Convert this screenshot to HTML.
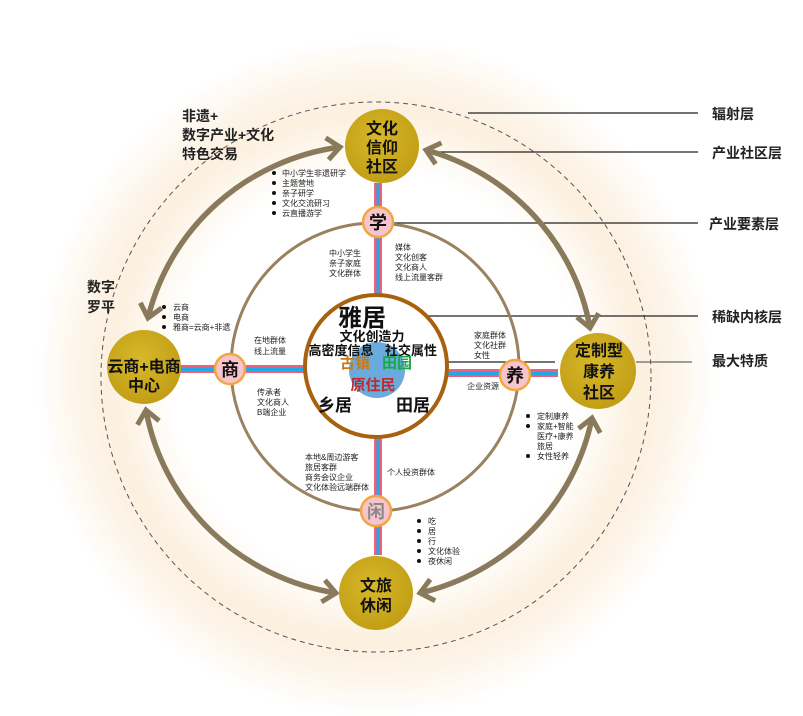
<!DOCTYPE html>
<html><head><meta charset="utf-8"><style>
html,body{margin:0;padding:0;background:#fff;}
svg{display:block;}
text{font-family:"Liberation Sans","Noto Sans CJK SC",sans-serif;}
</style></head><body>
<svg width="803" height="716" viewBox="0 0 803 716" xmlns="http://www.w3.org/2000/svg">
<defs>
<radialGradient id="glow" cx="376" cy="377" r="340" gradientUnits="userSpaceOnUse">
<stop offset="0" stop-color="#ffffff"/>
<stop offset="0.6" stop-color="#ffffff"/>
<stop offset="0.78" stop-color="#fcf0df"/>
<stop offset="0.88" stop-color="#fdf5ea"/>
<stop offset="1" stop-color="#ffffff"/>
</radialGradient>
<radialGradient id="gold" cx="0.45" cy="0.4" r="0.65">
<stop offset="0" stop-color="#d8b82a"/>
<stop offset="1" stop-color="#c09c14"/>
</radialGradient>
<marker id="ah" markerUnits="userSpaceOnUse" markerWidth="30" markerHeight="30" refX="0" refY="0" viewBox="-16 -15 20 30" orient="auto-start-reverse">
<path d="M-13,-11 L0,0 L-13,11" fill="none" stroke="#8a7a5c" stroke-width="5"/>
</marker>
</defs>
<rect width="803" height="716" fill="#fff"/>
<circle cx="376" cy="377" r="340" fill="url(#glow)"/>
<!-- dashed outer -->
<circle cx="376" cy="377" r="275" fill="none" stroke="#555" stroke-width="1" stroke-dasharray="5,4"/>

<!-- label lines -->
<g stroke="#222" stroke-width="1.3">
<line x1="468" y1="113" x2="698" y2="113"/>
<line x1="438" y1="152" x2="698" y2="152"/>
<line x1="393" y1="223" x2="698" y2="223"/>
<line x1="422" y1="316" x2="698" y2="316"/>
<line x1="405" y1="362" x2="555" y2="362"/>
<line x1="636" y1="362" x2="692" y2="362" stroke="#666"/>
</g>
<g font-size="14" font-weight="bold" fill="#222">
<text x="712" y="119">辐射层</text>
<text x="712" y="158">产业社区层</text>
<text x="709" y="229">产业要素层</text>
<text x="712" y="322">稀缺内核层</text>
<text x="712" y="366">最大特质</text>
</g>

<!-- middle circle -->
<circle cx="375" cy="367" r="144" fill="none" stroke="#9a8160" stroke-width="3"/>

<!-- arrow ring -->
<g fill="none" stroke="#8a7a5c" stroke-width="5.5" marker-start="url(#ah)" marker-end="url(#ah)">
<path d="M148,318 A230 225 0 0 1 340,147"/>
<path d="M426,150 A230 225 0 0 1 590,328"/>
<path d="M592,418 A230 225 0 0 1 420,593"/>
<path d="M336,593 A230 225 0 0 1 146,410"/>
</g>

<!-- connector bars -->
<g>
<rect x="374" y="183" width="8" height="112" fill="#f0607a"/><rect x="376.5" y="183" width="3" height="112" fill="#22a8e6"/>
<rect x="374" y="438" width="8" height="117" fill="#f0607a"/><rect x="376.5" y="438" width="3" height="117" fill="#22a8e6"/>
<rect x="180" y="365" width="126" height="8" fill="#f0607a"/><rect x="180" y="367.5" width="126" height="4" fill="#22a8e6"/>
<rect x="448" y="369" width="110" height="8" fill="#f0607a"/><rect x="448" y="371.5" width="110" height="4" fill="#22a8e6"/>
</g>

<!-- core -->
<circle cx="376" cy="366" r="71" fill="#fff" stroke="#a8620f" stroke-width="4"/>
<circle cx="377" cy="370" r="28" fill="#6aaadc"/>
<g font-weight="bold" text-anchor="middle">
<text x="362" y="326" font-size="24" fill="#111">雅居</text>
<text x="372" y="341" font-size="13" fill="#111">文化创造力</text>
<text x="341" y="355" font-size="13" fill="#111">高密度信息</text>
<text x="411" y="355" font-size="13" fill="#111">社交属性</text>
<text x="355" y="368" font-size="15" fill="#c87a18">古镇</text>
<text x="397" y="368" font-size="15" fill="#1aa84a">田园</text>
<text x="373" y="390" font-size="15" fill="#c0282a">原住民</text>
<text x="335" y="411" font-size="17" fill="#111">乡居</text>
<text x="413" y="411" font-size="17" fill="#111">田居</text>
</g>

<!-- big nodes -->
<g>
<circle cx="382" cy="146" r="37" fill="url(#gold)"/>
<circle cx="144" cy="367" r="37" fill="url(#gold)"/>
<circle cx="598" cy="371" r="38" fill="url(#gold)"/>
<circle cx="376" cy="593" r="37" fill="url(#gold)"/>
</g>
<g font-weight="bold" font-size="16" fill="#111" text-anchor="middle">
<text x="382" y="134">文化</text><text x="382" y="153">信仰</text><text x="382" y="172">社区</text>
<text x="144" y="372" font-size="16">云商+电商</text><text x="144" y="391">中心</text>
<text x="599" y="356">定制型</text><text x="599" y="377">康养</text><text x="599" y="398">社区</text>
<text x="376" y="591">文旅</text><text x="376" y="611">休闲</text>
</g>

<!-- small nodes -->
<g fill="#f7c4cc" stroke="#f2a640" stroke-width="2.5">
<circle cx="378" cy="222" r="15"/>
<circle cx="230" cy="369" r="15"/>
<circle cx="515" cy="375" r="15"/>
<circle cx="376" cy="511" r="15"/>
</g>
<g font-weight="bold" font-size="18" text-anchor="middle">
<text x="378" y="229" fill="#111">学</text>
<text x="230" y="376" fill="#111">商</text>
<text x="515" y="382" fill="#111">养</text>
<text x="376" y="518" fill="#888">闲</text>
</g>

<!-- side big labels -->
<g font-weight="bold" font-size="14" fill="#222">
<text x="182" y="121">非遗+</text>
<text x="182" y="140">数字产业+文化</text>
<text x="182" y="159">特色交易</text>
<text x="87" y="292">数字</text>
<text x="87" y="312">罗平</text>
</g>

<!-- small texts -->
<g font-size="8" fill="#222">
<g>
<circle cx="274" cy="173" r="2" fill="#111"/><text x="282" y="176">中小学生非遗研学</text>
<circle cx="274" cy="183" r="2" fill="#111"/><text x="282" y="186">主题营地</text>
<circle cx="274" cy="193" r="2" fill="#111"/><text x="282" y="196">亲子研学</text>
<circle cx="274" cy="203" r="2" fill="#111"/><text x="282" y="206">文化交流研习</text>
<circle cx="274" cy="213" r="2" fill="#111"/><text x="282" y="216">云直播游学</text>
</g>
<text x="329" y="256">中小学生</text><text x="329" y="266">亲子家庭</text><text x="329" y="276">文化群体</text>
<text x="395" y="250">媒体</text><text x="395" y="260">文化创客</text><text x="395" y="270">文化商人</text><text x="395" y="280">线上流量客群</text>
<g>
<circle cx="164" cy="307" r="2" fill="#111"/><text x="173" y="310">云商</text>
<circle cx="164" cy="317" r="2" fill="#111"/><text x="173" y="320">电商</text>
<circle cx="164" cy="327" r="2" fill="#111"/><text x="173" y="330">雅商=云商+非遗</text>
</g>
<text x="254" y="343">在地群体</text><text x="254" y="354">线上流量</text>
<text x="257" y="395">传承者</text><text x="257" y="405">文化商人</text><text x="257" y="415">B端企业</text>
<text x="474" y="338">家庭群体</text><text x="474" y="348">文化社群</text><text x="474" y="358">女性</text>
<text x="467" y="389">企业资源</text>
<g>
<circle cx="528" cy="416" r="2" fill="#111"/><text x="537" y="419">定制康养</text>
<circle cx="528" cy="426" r="2" fill="#111"/><text x="537" y="429">家庭+智能</text>
<text x="537" y="439">医疗+康养</text><text x="537" y="449">旅居</text>
<circle cx="528" cy="456" r="2" fill="#111"/><text x="537" y="459">女性轻养</text>
</g>
<text x="305" y="460">本地&amp;周边游客</text><text x="305" y="470">旅居客群</text><text x="305" y="480">商务会议企业</text><text x="305" y="490">文化体验远端群体</text>
<text x="387" y="475">个人投资群体</text>
<g>
<circle cx="419" cy="521" r="2" fill="#111"/><text x="428" y="524">吃</text>
<circle cx="419" cy="531" r="2" fill="#111"/><text x="428" y="534">居</text>
<circle cx="419" cy="541" r="2" fill="#111"/><text x="428" y="544">行</text>
<circle cx="419" cy="551" r="2" fill="#111"/><text x="428" y="554">文化体验</text>
<circle cx="419" cy="561" r="2" fill="#111"/><text x="428" y="564">夜休闲</text>
</g>
</g>
</svg>
</body></html>
